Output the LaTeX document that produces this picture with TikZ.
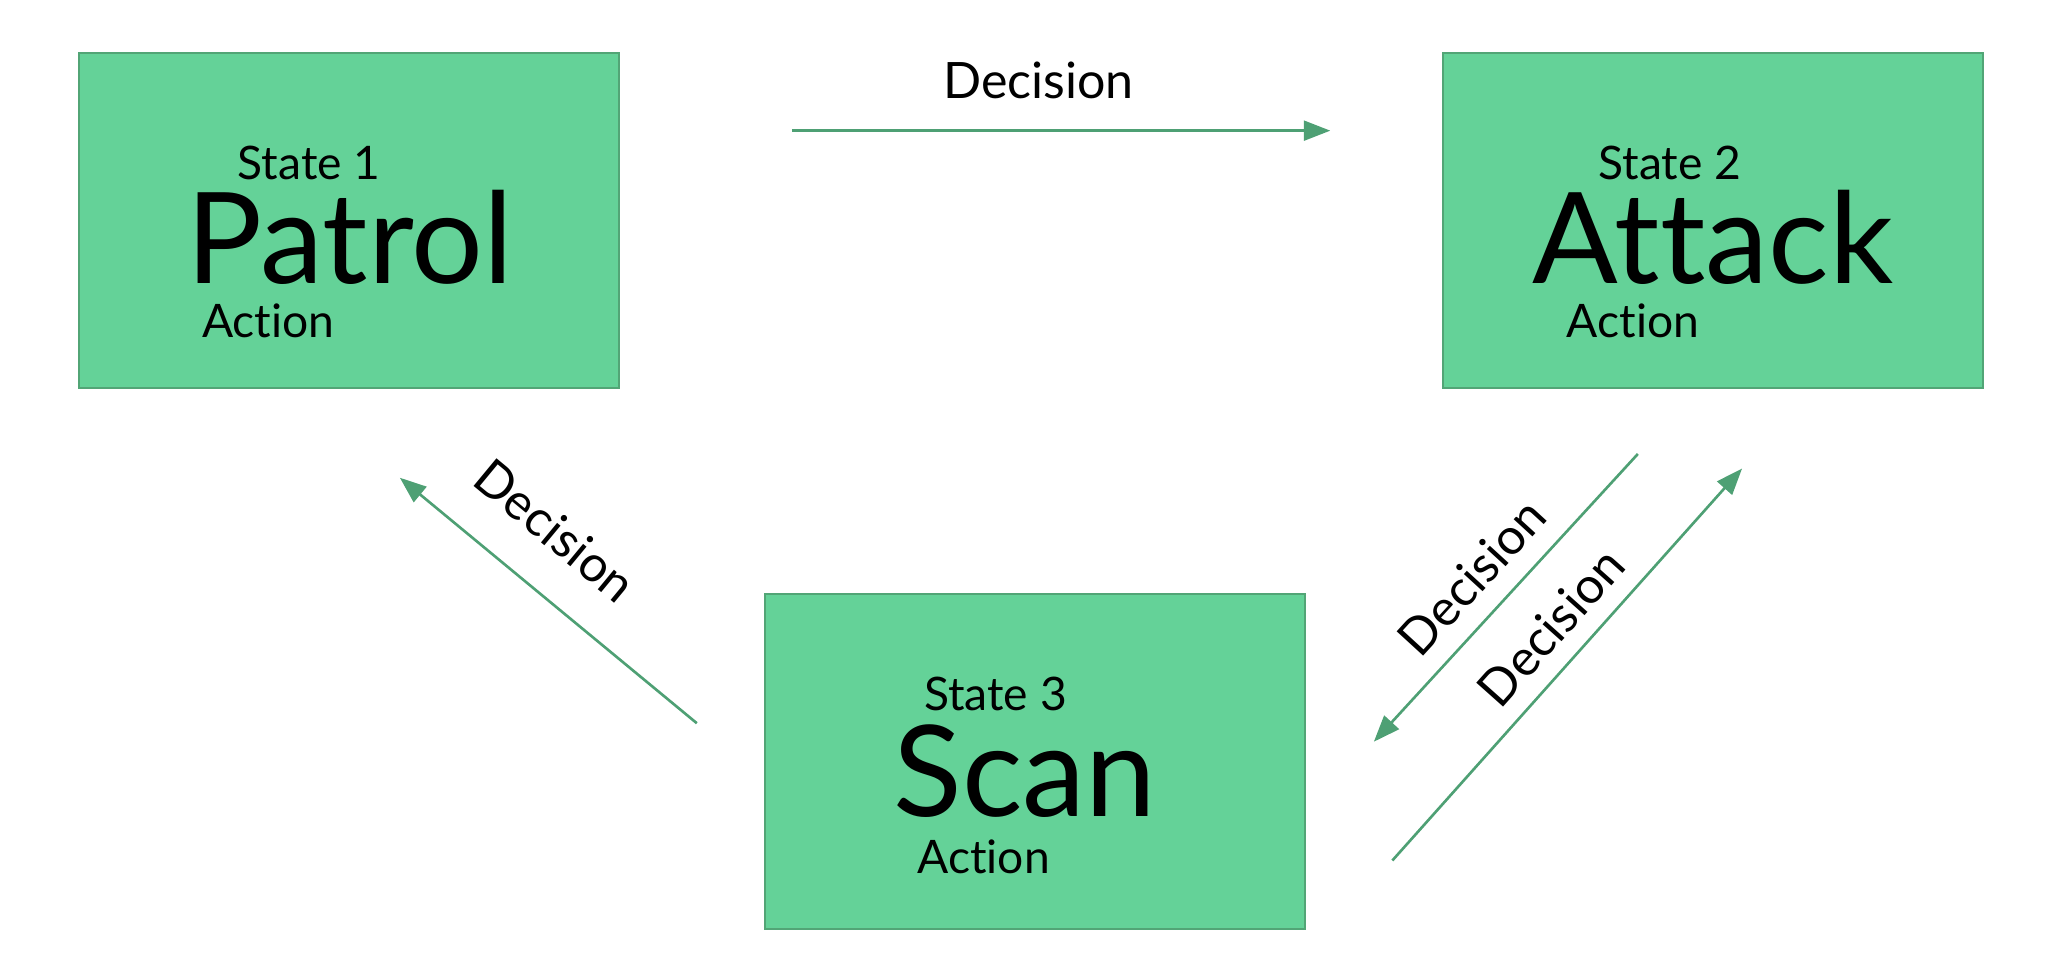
\documentclass[tikz,border=0pt]{standalone}
\usepackage{fontspec}
\setmainfont{Lato}[Ligatures={NoCommon}]
\usetikzlibrary{arrows.meta}
\definecolor{boxfill}{RGB}{100,210,152}
\definecolor{boxline}{RGB}{82,165,118}
\definecolor{arrowc}{RGB}{78,160,116}
\begin{document}
\begin{tikzpicture}[x=1pt,y=-1pt,
  statebox/.style={draw=boxline,fill=boxfill,line width=1.5pt,minimum width=409pt,minimum height=254pt,inner sep=0pt},
  small/.style={font=\fontsize{35}{40}\selectfont,inner sep=0pt,anchor=base west},
  big/.style={font=\fontsize{96}{104}\selectfont,inner sep=0pt,anchor=base west},
  conn/.style={draw=arrowc,line width=2pt,-{Triangle[length=20pt,width=15pt]}},
  lbl/.style={font=\fontsize{38}{44}\selectfont,inner sep=0pt}]
\useasboundingbox (0,0) rectangle (1570,734);
% boxes
\node[statebox] (patrol) at (264.5,167) {};
\node[statebox] (attack) at (1298,167) {};
\node[statebox] (scan) at (784,577) {};
% texts box 1
\node[small] (s1) at (180,136) {State 1};
\node[big] (t1) at (141,215) {Patrol};
\node[small] (c1) at (153,256) {Action};
% texts box 2
\node[small] (s2) at (1211,136) {State 2};
\node[big] (t2) at (1161,215) {Attack};
\node[small] (c2) at (1187,256) {Action};
% texts box 3
\node[small] (s3) at (700,538) {State 3};
\node[big] (t3) at (677,619) {Scan};
\node[small] (c3) at (695,662) {Action};
% connectors
\coordinate (a12s) at (600,99);
\coordinate (a12e) at (1008,99);
\coordinate (a31s) at (528,548);
\coordinate (a31e) at (303,362);
\coordinate (a23s) at (1241,344);
\coordinate (a23e) at (1041,562);
\coordinate (a32s) at (1055,652);
\coordinate (a32e) at (1320,355);
\draw[conn] (a12s) -- (a12e);
\draw[conn] (a31s) -- (a31e);
\draw[conn] (a23s) -- (a23e);
\draw[conn] (a32s) -- (a32e);
% labels
\node[lbl,anchor=base] (d12) at (787,75) {Decision};
\node[lbl,rotate=-39.6] (d31) at (421,402) {Decision};
\node[lbl,rotate=47.5] (d23) at (1115,437) {Decision};
\node[lbl,rotate=48.3] (d32) at (1175,475) {Decision};
\end{tikzpicture}
\end{document}
